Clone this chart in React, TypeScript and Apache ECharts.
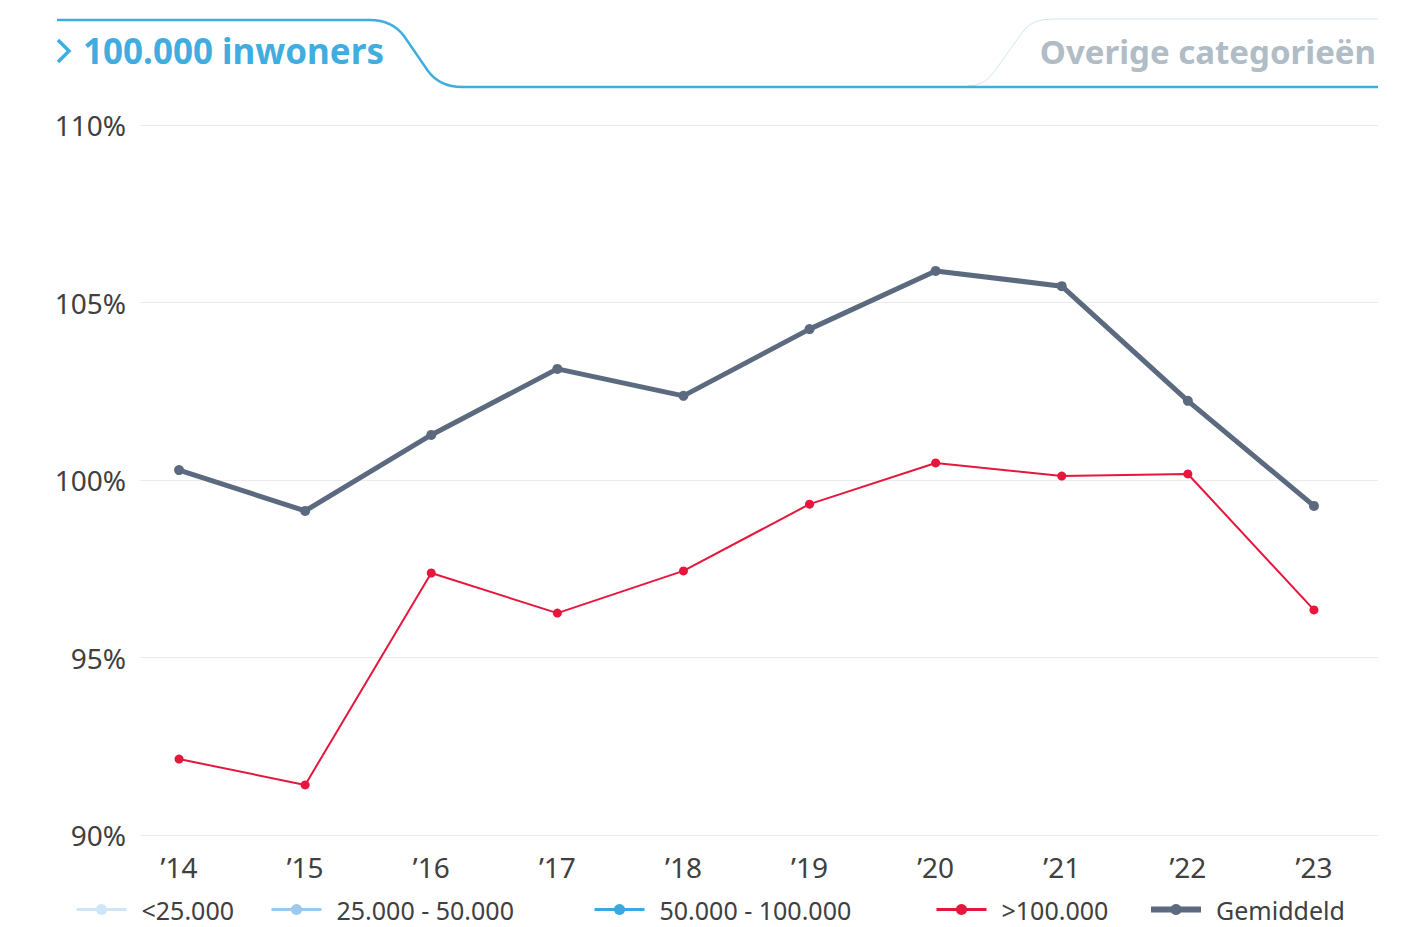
import React, { useEffect, useRef } from "react";
import * as echarts from "echarts";

const years = ["’14", "’15", "’16", "’17", "’18", "’19", "’20", "’21", "’22", "’23"];
const gemiddeld = [100.28, 99.13, 101.27, 103.13, 102.37, 104.25, 105.89, 105.46, 102.23, 99.27];
const boven100k = [92.14, 91.41, 97.38, 96.25, 97.44, 99.32, 100.48, 100.11, 100.17, 96.34];
const onder25k: number[] = [];
const van25tot50k: number[] = [];
const van50tot100k: number[] = [];
const yTicks = { min: 90, max: 110, interval: 5 };

const seriesNames = ["<25.000", "25.000 - 50.000", "50.000 - 100.000", ">100.000", "Gemiddeld"];
const seriesColors = ["#cfe6f7", "#9ccaee", "#3da8df", "#e5173d", "#5b6a7f"];
const legendLeft = [75, 270, 593, 935, 1148];

const FONT = "'Noto Sans', sans-serif";

export default function App() {
  const ref = useRef<HTMLDivElement>(null);
  useEffect(() => {
    if (!ref.current) return;
    echarts.graphic.registerShape(
      "tabActive",
      echarts.graphic.extendPath(
        "M57,20 L370,20 Q392,20 404,36 L428,71 Q440,87 462,87 L1378,87",
        {}
      )
    );
    echarts.graphic.registerShape(
      "tabInactive",
      echarts.graphic.extendPath(
        "M968,86 Q984,86 994,72 L1024,30 Q1033,19 1052,19 L1378,19",
        {}
      )
    );
    const chart = echarts.init(ref.current, undefined, { renderer: "svg" });
    const dataSets = [onder25k, van25tot50k, van50tot100k, boven100k, gemiddeld];
    const series = seriesNames.map((name, i) => ({
      name,
      type: "line",
      xAxisIndex: 1,
      yAxisIndex: 1,
      data: dataSets[i],
      symbol: "circle",
      symbolSize: i === 4 ? 10 : 9,
      showSymbol: true,
      z: i === 4 ? 3 : 4,
      itemStyle: { color: seriesColors[i] },
      lineStyle: { color: seriesColors[i], width: i === 4 ? 5 : 2 },
      emphasis: { disabled: true },
    }));
    const legends = seriesNames.map((name, i) => ({
      data: [name],
      left: legendLeft[i],
      top: 897,
      itemWidth: 50,
      itemHeight: 14,
      padding: 0,
      selectedMode: false,
      lineStyle: { width: i === 4 ? 6 : 3 },
      textStyle: {
        fontFamily: FONT,
        fontSize: 25,
        lineHeight: 25,
        color: "#404040",
        padding: [0, 0, 0, 10],
      },
    }));
    chart.setOption({
      animation: false,
      backgroundColor: "#ffffff",
      legend: legends,
      grid: [
        { left: 140, right: 36, top: 125, bottom: 92 },
        { left: 116, right: 37, top: 125, bottom: 92 },
      ],
      xAxis: [
        { type: "category", gridIndex: 0, data: years, show: false },
        {
          type: "category",
          gridIndex: 1,
          data: years,
          boundaryGap: true,
          axisLine: { show: false },
          axisTick: { show: false },
          axisLabel: {
            fontFamily: FONT,
            fontSize: 28,
            color: "#404040",
            margin: 18,
          },
        },
      ],
      yAxis: [
        {
          type: "value",
          gridIndex: 0,
          min: yTicks.min,
          max: yTicks.max,
          interval: yTicks.interval,
          axisLine: { show: false },
          axisTick: { show: false },
          axisLabel: {
            fontFamily: FONT,
            fontSize: 28,
            color: "#404040",
            margin: 14,
            formatter: (v: number) => `${v}%`,
          },
          splitLine: { lineStyle: { color: "#ebebeb", width: 1 } },
        },
        {
          type: "value",
          gridIndex: 1,
          min: yTicks.min,
          max: yTicks.max,
          interval: yTicks.interval,
          show: false,
          splitLine: { show: false },
        },
      ],
      series,
      graphic: [
        {
          type: "tabInactive",
          x: 0,
          y: 0,
          style: { stroke: "#cfe6f3", lineWidth: 1, fill: "none" },
        },
        {
          type: "tabActive",
          x: 0,
          y: 0,
          style: { stroke: "#3fade0", lineWidth: 2.5, fill: "none" },
        },
        {
          type: "polyline",
          shape: { points: [[58, 40], [69, 51], [58, 62]] },
          style: { stroke: "#3fade0", lineWidth: 3.5, fill: "none" },
        },
        {
          type: "text",
          x: 83,
          y: 50,
          style: {
            text: "100.000 inwoners",
            fontFamily: FONT,
            fontWeight: "bold",
            fontSize: 35,
            fill: "#3fade0",
            verticalAlign: "middle",
          },
        },
        {
          type: "text",
          x: 1376,
          y: 51,
          style: {
            text: "Overige categorieën",
            fontFamily: FONT,
            fontWeight: "bold",
            fontSize: 33,
            fill: "#b0bcc6",
            align: "right",
            verticalAlign: "middle",
          },
        },
      ],
    });
    return () => chart.dispose();
  }, []);
  return (
    <div
      ref={ref}
      style={{ position: "fixed", left: 0, top: 0, width: 1414, height: 927 }}
    />
  );
}
